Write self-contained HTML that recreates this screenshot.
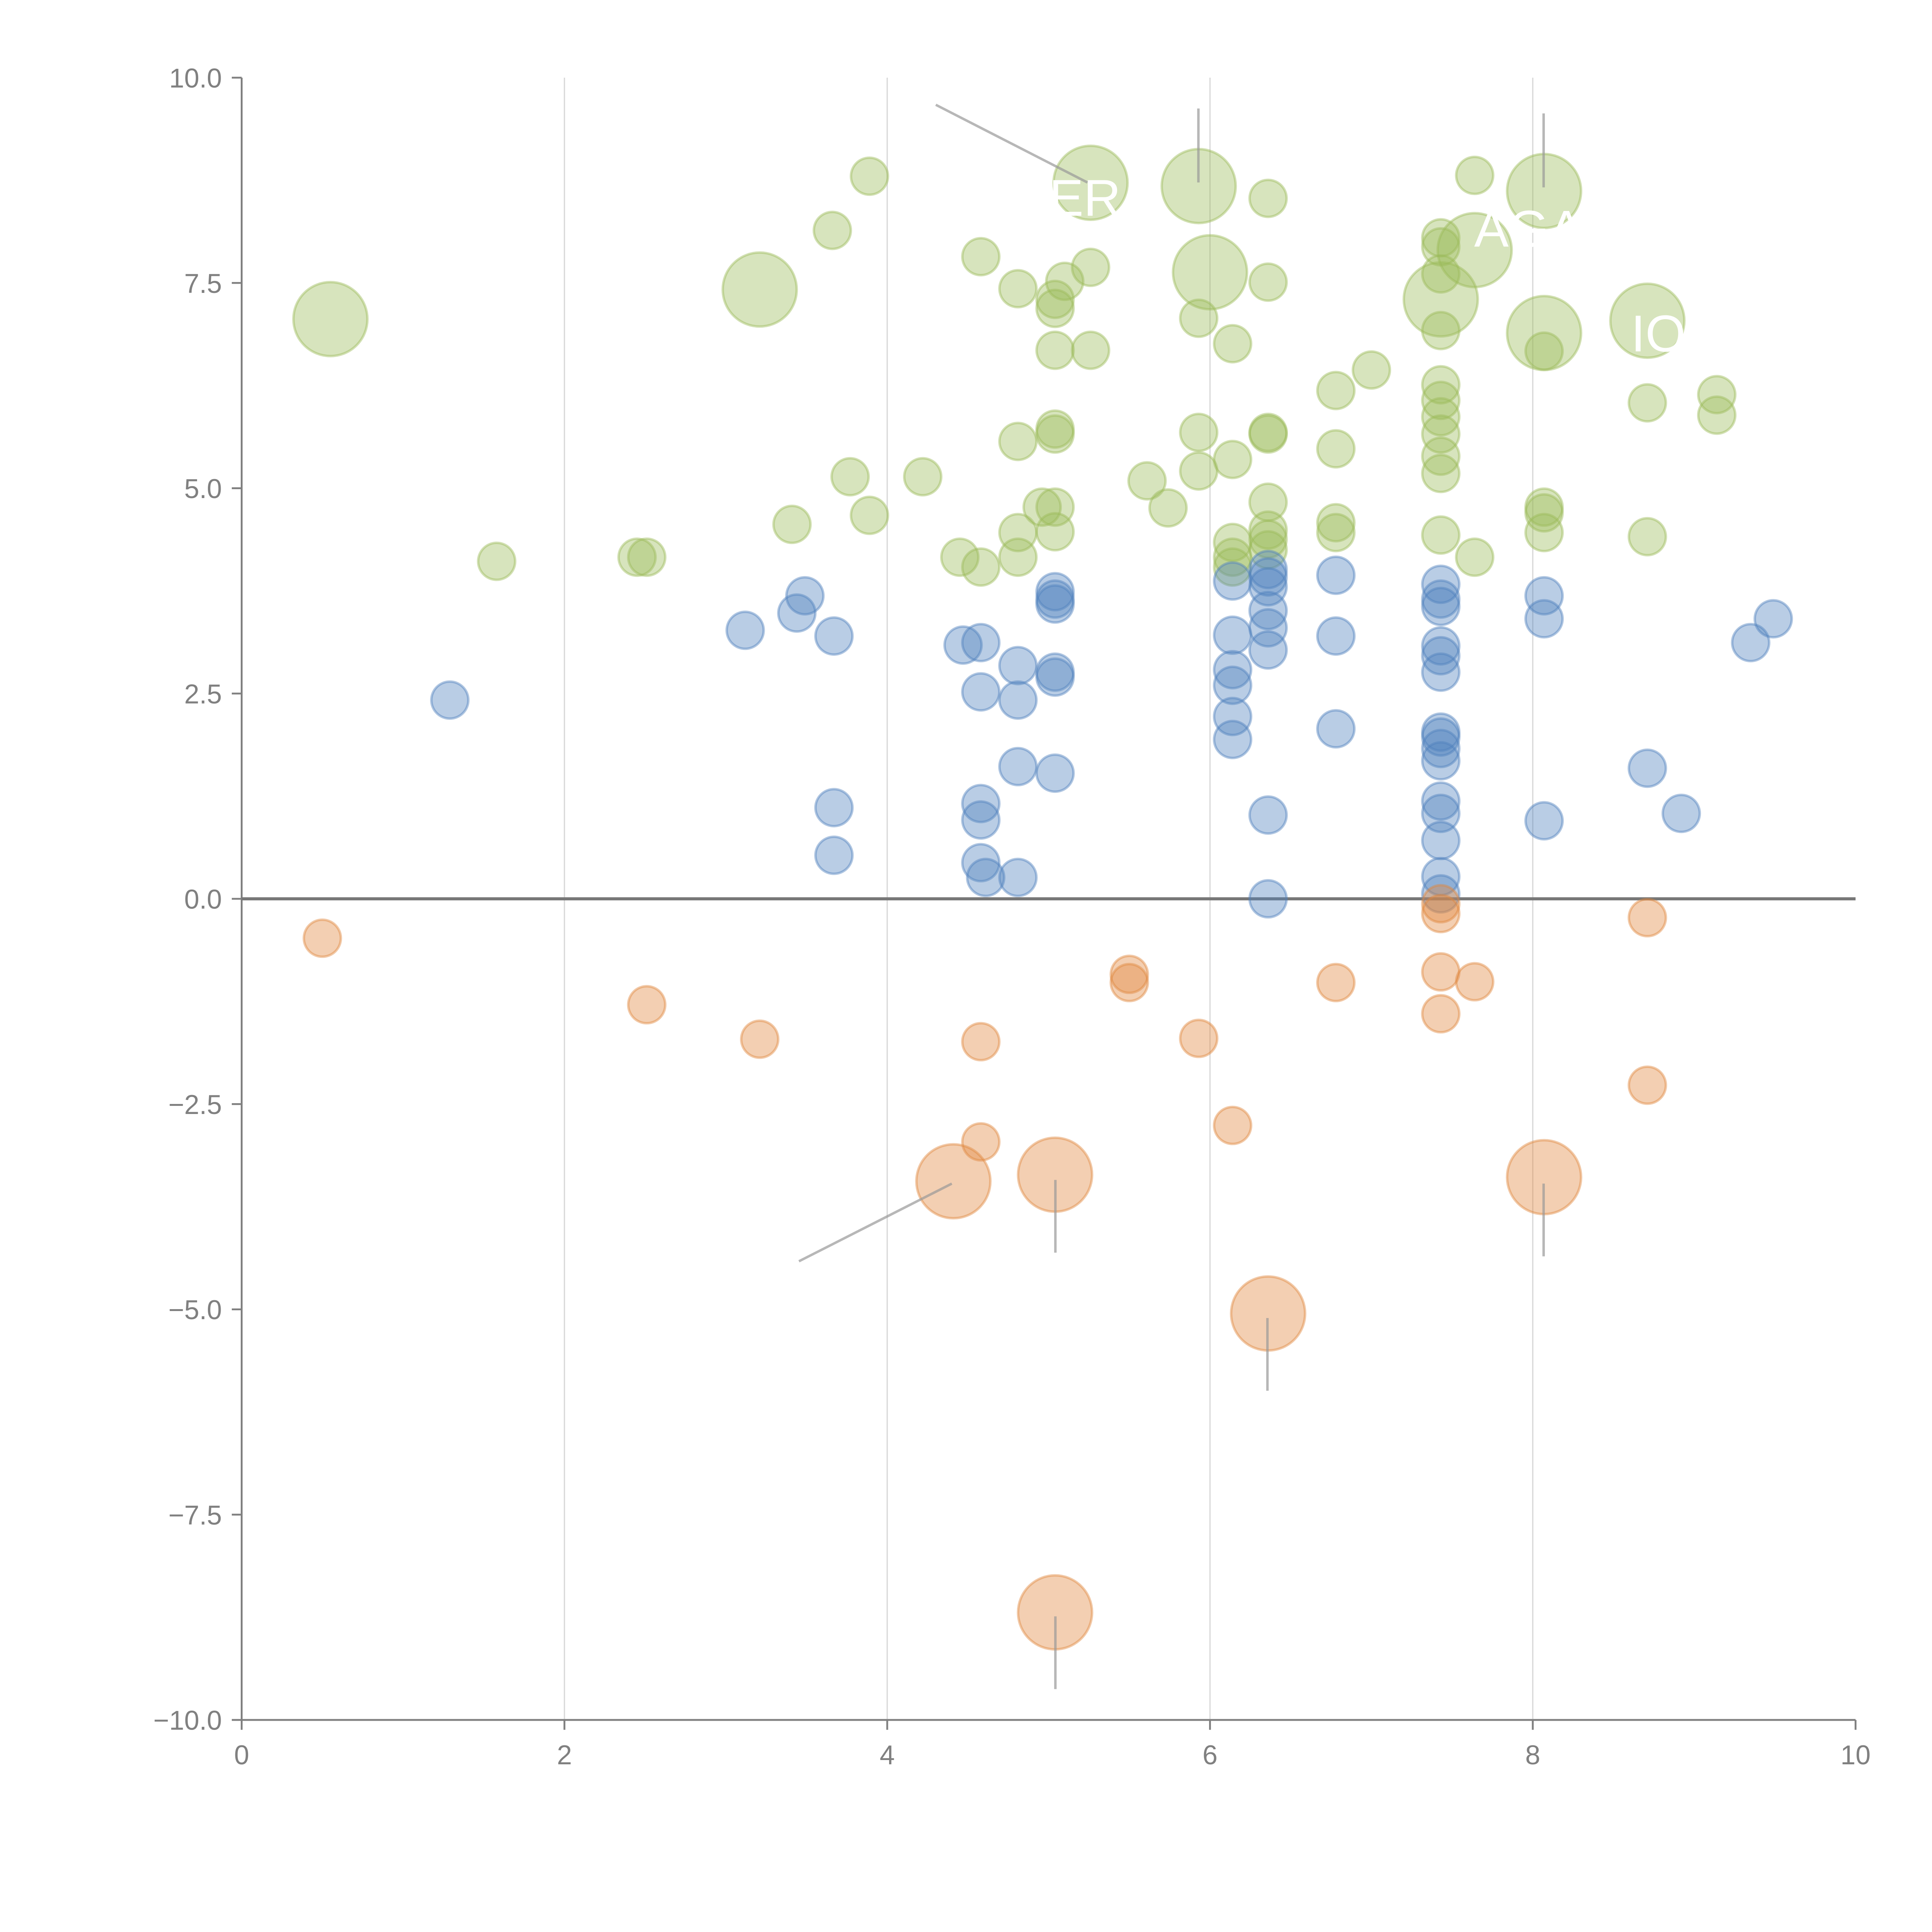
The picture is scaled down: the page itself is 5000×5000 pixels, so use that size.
<!DOCTYPE html>
<html><head><meta charset="utf-8"><style>html,body{margin:0;padding:0;background:#fff}svg{display:block}</style></head>
<body>
<svg id="chart" width="5000" height="5000" viewBox="0 0 1567 1567" xmlns="http://www.w3.org/2000/svg" font-family="Liberation Sans, sans-serif"></svg>
<script>
const greenX=[0.55,1.58,2.45,2.51,3.21,3.66,3.89,3.41,3.77,3.89,4.22,4.45,4.58,4.58,4.81,4.81,4.81,4.81,4.96,5.04,5.04,5.10,5.04,5.04,5.04,5.04,5.04,5.26,5.26,5.26,5.61,5.74,5.93,5.93,5.93,5.93,6.00,6.14,6.14,6.14,6.14,6.14,6.36,6.36,6.36,6.36,6.36,6.36,6.36,6.36,6.78,6.78,6.78,6.78,7.00,7.43,7.43,7.43,7.43,7.43,7.43,7.43,7.43,7.43,7.43,7.43,7.43,7.64,7.64,7.64,8.07,8.07,8.07,8.07,8.07,8.07,8.71,8.71,8.71,9.14,9.14];
const greenY=[7.06,4.11,4.16,4.16,7.42,8.14,8.80,4.56,5.14,4.67,5.14,4.16,4.04,7.82,7.43,5.57,4.46,4.16,4.77,7.19,7.30,7.52,6.68,5.72,5.66,4.77,4.47,7.69,6.68,8.72,5.09,4.76,8.68,7.07,5.68,5.21,7.63,6.76,5.35,4.34,4.16,4.04,8.53,7.51,5.68,5.66,4.83,4.49,4.38,4.25,6.19,5.48,4.58,4.46,6.44,8.05,7.94,7.61,7.30,6.92,6.26,6.07,5.87,5.66,5.39,5.18,4.43,8.81,7.90,4.16,8.62,6.89,6.67,4.77,4.70,4.46,7.04,6.04,4.41,6.14,5.89];
const greenS=[2,1,1,1,2,1,1,1,1,1,1,1,1,1,1,1,1,1,1,1,1,1,1,1,1,1,1,1,1,2,1,1,2,1,1,1,2,1,1,1,1,1,1,1,1,1,1,1,1,1,1,1,1,1,1,1,1,1,2,1,1,1,1,1,1,1,1,1,2,1,2,2,1,1,1,1,2,1,1,1,1];
const blueX=[1.29,3.12,3.44,3.49,3.67,3.67,3.67,4.47,4.58,4.58,4.58,4.58,4.58,4.61,4.81,4.81,4.81,4.81,5.04,5.04,5.04,5.04,5.04,5.04,6.14,6.14,6.14,6.14,6.14,6.14,6.36,6.36,6.36,6.36,6.36,6.36,6.36,6.36,6.78,6.78,6.78,7.43,7.43,7.43,7.43,7.43,7.43,7.43,7.43,7.43,7.43,7.43,7.43,7.43,7.43,7.43,8.07,8.07,8.07,8.71,8.92,9.35,9.49];
const blueY=[2.42,3.27,3.48,3.69,3.20,1.11,0.53,3.09,3.12,2.52,1.16,0.96,0.44,0.26,2.84,2.42,1.61,0.26,3.74,3.65,3.59,2.76,2.70,1.53,3.87,3.21,2.79,2.60,2.22,1.94,4.01,3.92,3.80,3.51,3.30,3.03,1.02,0,3.94,3.20,2.07,3.83,3.65,3.56,3.08,2.96,2.76,2.03,1.97,1.83,1.68,1.19,1.04,0.71,0.27,0.06,3.69,3.41,0.95,1.59,1.04,3.12,3.41];
const orangeX=[0.50,2.51,3.21,4.58,4.58,4.41,5.04,5.04,5.50,5.50,5.93,6.14,6.36,6.78,7.43,7.43,7.43,7.43,7.64,8.07,8.71,8.71];
const orangeY=[-0.48,-1.29,-1.71,-1.74,-2.96,-3.44,-3.36,-8.69,-0.92,-1.02,-1.70,-2.76,-5.05,-1.02,-0.06,-0.18,-0.89,-1.40,-1.01,-3.39,-0.23,-2.27];
const orangeS=[1,1,1,1,1,2,2,2,1,1,1,1,2,1,1,1,1,1,1,2,1,1];
const xTicks=[0,2,4,6,8,10];
const yTicks=[-10,-7.5,-5,-2.5,0,2.5,5,7.5,10];

const svg=document.getElementById('chart');
const NS='http://www.w3.org/2000/svg';
const X=v=>196+v*130.9;
const Y=v=>729-v*66.6;
function mk(tag,attrs,parent){const e=document.createElementNS(NS,tag);for(const k in attrs)e.setAttribute(k,attrs[k]);(parent||svg).appendChild(e);return e;}

const grid=mk('g',{});


[2,4,6,8].forEach(v=>{const l=mk('line',{x1:X(v),x2:X(v),y1:Y(10),y2:Y(-10),stroke:'#d8d8d8','stroke-width':1},grid);

});

const axes=mk('g',{stroke:'#808080','stroke-width':1.5,fill:'none'});


mk('line',{x1:X(0),x2:X(0),y1:Y(10),y2:Y(-10)},axes);
mk('line',{x1:X(0),x2:X(10),y1:Y(-10),y2:Y(-10)},axes);
xTicks.forEach(v=>{mk('line',{x1:X(v),x2:X(v),y1:Y(-10),y2:Y(-10)+8},axes);
const t=mk('text',{x:X(v),y:Y(-10)+36,'text-anchor':'middle','font-size':22,fill:'#808080'});t.textContent=v;

});
yTicks.forEach(v=>{mk('line',{x1:X(0)-8,x2:X(0),y1:Y(v),y2:Y(v)},axes);
const t=mk('text',{x:X(0)-16,y:Y(v)+8,'text-anchor':'end','font-size':22,fill:'#808080'});t.textContent=(v<0?'\u2212':'')+Math.abs(v).toFixed(1);

});
const zl=mk('line',{x1:X(0),x2:X(10),y1:Y(0),y2:Y(0),stroke:'#777','stroke-width':2.5});



function series(xs,ys,ss,color,name){
  const g=mk('g',{});
  
  
  xs.forEach((x,i)=>{const r=(ss&&ss[i]===2)?30:15;
    const c=mk('circle',{cx:X(x),cy:Y(ys[i]),r:r,fill:color,'fill-opacity':0.4,stroke:color,'stroke-opacity':0.45,'stroke-width':2},g);
    
    });
}
series(greenX,greenY,greenS,'#9bbb59','green');
series(blueX,blueY,null,'#4f81bd','blue');
series(orangeX,orangeY,orangeS,'#e0873f','orange');

const lead=[[759,85,882,148],[972,88,972,148],[1252,92,1252,152],[772,960,648,1023],[856,957,856,1016],[856,1311,856,1370],[1028,1069,1028,1128],[1252,960,1252,1019]];
const lg=mk('g',{stroke:'#999','stroke-width':2,'stroke-opacity':0.7});


lead.forEach(a=>mk('line',{x1:a[0],y1:a[1],x2:a[2],y2:a[3]},lg));
[['ER',880,175],['AGA',1240,200],['IO',1345,285]].forEach(a=>{const t=mk('text',{x:a[1],y:a[2],'text-anchor':'middle','font-size':42,fill:'#fff'});t.textContent=a[0];

});
</script>
</body></html>
